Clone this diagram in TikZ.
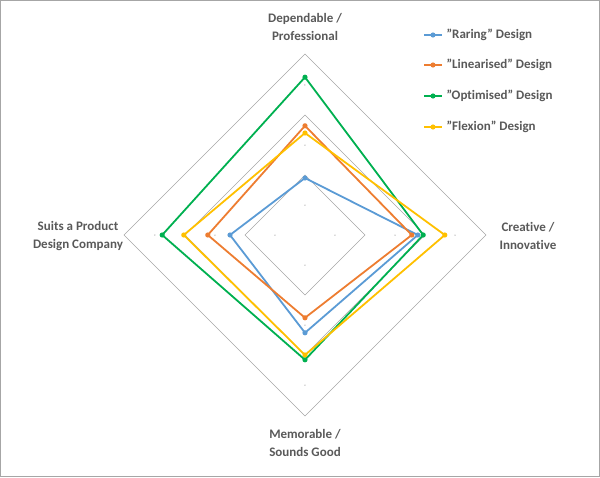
\documentclass[tikz,border=0pt]{standalone}
\usepackage{fontspec}
\setmainfont{Carlito}[Ligatures=NoCommon]
\usetikzlibrary{positioning}
\definecolor{cBlue}{HTML}{5B9BD5}
\definecolor{cOrange}{HTML}{ED7D31}
\definecolor{cGreen}{HTML}{00B050}
\definecolor{cYellow}{HTML}{FFC000}
\definecolor{cText}{HTML}{595959}
\definecolor{cGrid}{HTML}{A6A6A6}
\newcommand\dq{{\char34}}
\tikzset{
	axislabel/.style={font=\fontsize{13}{18}\selectfont\bfseries, text=cText, align=center},
	legendtext/.style={font=\fontsize{13}{15}\selectfont\bfseries, text=cText, anchor=west},
	series/.style={line width=1.8pt, line join=round},
}
% one series: colour, top, right, bottom, left (in grid units)
\newcommand\Series[5]{
	\draw[series, #1] (0,#2*60) -- (#3*60,0) -- (0,-#4*60) -- (-#5*60,0) -- cycle;
	\foreach \p in {(0,#2*60),(#3*60,0),(0,-#4*60),(-#5*60,0)}
		\fill[#1] \p circle (2.6);
}
\newcommand\LegendItem[3]{
	\draw[#1, line width=1.8pt] (119,#2) -- (137,#2);
	\fill[#1] (128,#2) circle (2.6);
	\node[legendtext] at (138,#2) {#3};
}
\begin{document}
\begin{tikzpicture}[x=1pt, y=1pt]
		\useasboundingbox (-305,-242) rectangle (295,235);
		\draw[cGrid] (-304.5,-241.5) rectangle (294.5,234.5);
		% grid
		\foreach \r in {60,120,181}
			\draw[cGrid, line width=0.6pt] (0,\r) -- (\r,0) -- (0,-\r) -- (-\r,0) -- cycle;
		\foreach \r in {30,90,150}
			\foreach \a in {0,90,180,270}
				\fill[cText] (\a:\r) circle (0.5);
		% data
		\Series{cBlue}{0.95}{1.88}{1.63}{1.25}
		\Series{cOrange}{1.82}{1.78}{1.38}{1.62}
		\Series{cGreen}{2.63}{1.97}{2.08}{2.38}
		\Series{cYellow}{1.70}{2.33}{2.00}{2.02}
		% labels
		\node[axislabel] (top) at (0,208) {Dependable /\\Professional};
		\node[axislabel] (right) at (223,-1) {Creative /\\Innovative};
		\node[axislabel] (bottom) at (0,-208) {Memorable /\\Sounds Good};
		\node[axislabel] (left) at (-227,-1) {Suits a Product\\Design Company};
		% legend
		\LegendItem{cBlue}{200}{\dq Raring\dq{} Design}
		\LegendItem{cOrange}{170}{\dq Linearised\dq{} Design}
		\LegendItem{cGreen}{139}{\dq Optimised\dq{} Design}
		\LegendItem{cYellow}{108}{\dq Flexion\dq{} Design}
\end{tikzpicture}
\end{document}
